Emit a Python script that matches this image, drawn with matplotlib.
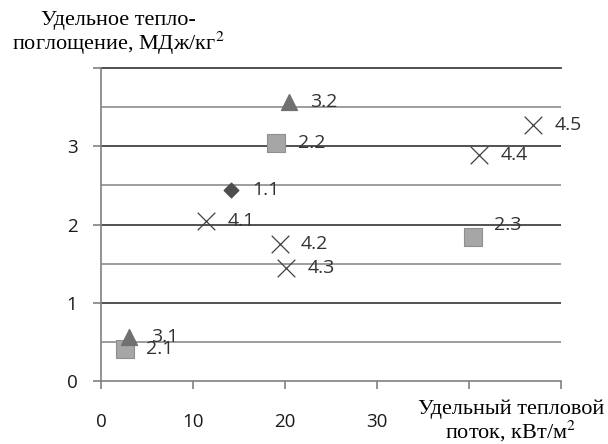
import matplotlib
matplotlib.use("Agg")
import matplotlib.pyplot as plt
from matplotlib.ticker import FixedLocator

# series: (heat flux kW/m2, heat absorption MJ/kg2), labels
s1_x = [14.1]
s1_y = [2.44]
s1_lab = ["1.1"]

s2_x = [2.6, 19.05, 40.4]
s2_y = [0.41, 3.05, 1.84]
s2_lab = ["2.1", "2.2", "2.3"]

s3_x = [3.1, 20.4]
s3_y = [0.56, 3.57]
s3_lab = ["3.1", "3.2"]

s4_x = [11.4, 19.4, 20.1, 41.1, 46.9]
s4_y = [2.04, 1.75, 1.44, 2.89, 3.27]
s4_lab = ["4.1", "4.2", "4.3", "4.4", "4.5"]

xticks = [0, 10, 20, 30, 40, 50]
xticklabels = ["0", "10", "20", "30", "", ""]
yticks = [0, 1, 2, 3, 4]
yticklabels = ["0", "1", "2", "3", ""]

sans = "Open Sans"
serif = "Liberation Serif"
plt.rcParams["mathtext.fontset"] = "stix"

fig = plt.figure(figsize=(6.08, 4.44), dpi=100)
ax = fig.add_axes([0.166, 0.1426, 0.757, 0.7034])
ax.set_xlim(0, 50)
ax.set_ylim(0, 4)

# grid
for y in [0.5, 1.5, 2.5, 3.5]:
    ax.axhline(y, color="#8c8c8c", lw=1.2, zorder=1)
for y in [1, 2, 3]:
    ax.axhline(y, color="#333333", lw=1.2, zorder=1)
ax.axhline(4, color="#333333", lw=1.2, zorder=1, clip_on=False)

ax.scatter(s1_x, s1_y, marker="D", s=55, color="#4d4d4d", zorder=3)
ax.scatter(s2_x, s2_y, marker="s", s=150, color="#a6a6a6",
           edgecolors="#8f8f8f", linewidths=0.8, zorder=3)
ax.scatter(s3_x, s3_y, marker="^", s=130, color="#707070", zorder=3)
ax.scatter(s4_x, s4_y, marker="x", s=160, color="#404040",
           linewidths=0.9, zorder=3)

labcol = "#333333"
for xs, ys, labs in [(s1_x, s1_y, s1_lab), (s2_x, s2_y, s2_lab),
                     (s3_x, s3_y, s3_lab), (s4_x, s4_y, s4_lab)]:
    for x, y, t in zip(xs, ys, labs):
        dy = 9 if t == "2.3" else 0
        ax.annotate(t, (x, y), xytext=(15.5, dy), textcoords="offset points",
                    ha="left", va="center", fontsize=14, family=sans,
                    color=labcol, zorder=4)

for s in ["top", "right"]:
    ax.spines[s].set_visible(False)
ax.spines["left"].set_color("#808080")
ax.spines["left"].set_linewidth(1.2)
ax.spines["bottom"].set_color("#808080")
ax.spines["bottom"].set_linewidth(1.2)

ax.xaxis.set_major_locator(FixedLocator(xticks))
ax.set_xticklabels(xticklabels)
ax.yaxis.set_major_locator(FixedLocator(yticks))
ax.set_yticklabels(yticklabels)
ax.tick_params(axis="x", direction="out", length=6, width=1.2,
               color="#808080", pad=17, labelsize=13.5, labelcolor="#1a1a1a")
ax.tick_params(axis="y", direction="out", length=6, width=1.2,
               color="#808080", pad=11, labelsize=13.5, labelcolor="#1a1a1a")
for lab in ax.get_xticklabels() + ax.get_yticklabels():
    lab.set_family(sans)

fig.text(0.194, 0.975, "Удельное тепло-\nпоглощение, МДж/кг$^2$",
         ha="center", va="top", family=serif, fontsize=16, linespacing=1.0)
fig.text(0.84, 0.05, "Удельный тепловой\nпоток, кВт/м$^2$",
         ha="center", va="center", family=serif, fontsize=16, linespacing=1.0)

fig.savefig("out.png", dpi=100)
